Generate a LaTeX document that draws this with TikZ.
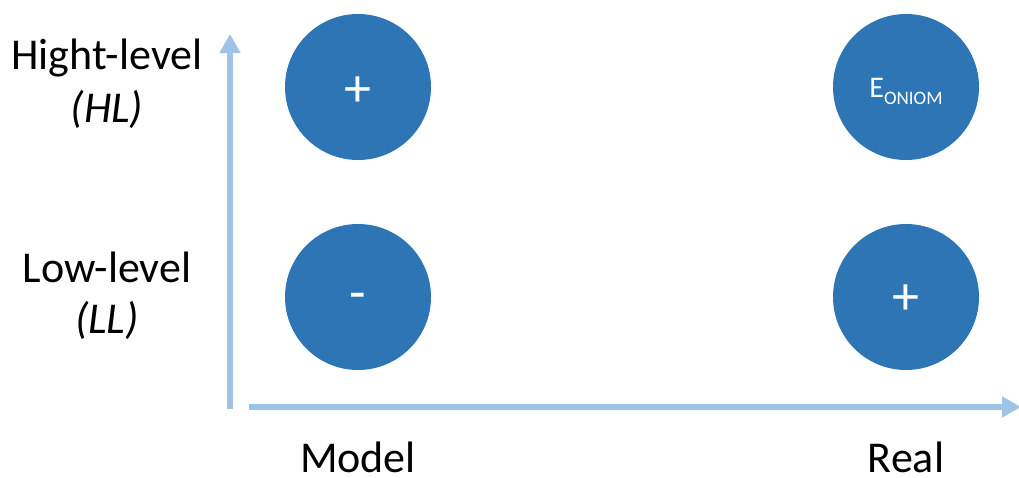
\documentclass[tikz,border=0pt]{standalone}
\usepackage{fontspec}
\setmainfont{Carlito}
\usetikzlibrary{arrows.meta}
\definecolor{ballblue}{HTML}{2E75B6}
\definecolor{axisblue}{HTML}{9DC3E6}
\begin{document}
\begin{tikzpicture}[x=1pt,y=-1pt,
  ball/.style={circle,fill=ballblue,minimum size=146pt,inner sep=0pt},
  sym/.style={text=white,inner sep=0pt,font=\fontsize{54}{60}\selectfont},
  axis/.style={draw=axisblue,line width=6.5pt,-{Triangle[width=20pt,length=19pt]}},
  lbl/.style={font=\fontsize{44}{52}\selectfont,inner sep=0pt,anchor=base,align=center}]
\useasboundingbox (0,0) rectangle (1019,477);
\coordinate (vstart) at (230,409);
\coordinate (vend) at (230,34);
\coordinate (hstart) at (249,407);
\coordinate (hend) at (1021,407);
\draw[axis] (vstart) -- (vend);
\draw[axis] (hstart) -- (hend);
\node[ball] (hlm) at (358,87) {};
\node[ball] (hlr) at (906,87) {};
\node[ball] (llm) at (358,297) {};
\node[ball] (llr) at (906,297) {};
\node[sym] (hlmt) at (358,92) {+};
\node[sym] (llmt) at (358,302) {-};
\node[sym] (llrt) at (906,300) {+};
\node[text=white,inner sep=0pt,anchor=base] (hlrt) at (906,97) {\fontsize{30}{34}\selectfont E\raisebox{-7pt}{\fontsize{19}{22}\selectfont ONIOM}};
\node[lbl] (hl1) at (107,69) {Hight-level};
\node[lbl] (hl2) at (107,122) {\itshape (HL)};
\node[lbl] (ll1) at (107,282) {Low-level};
\node[lbl] (ll2) at (107,333) {\itshape (LL)};
\node[lbl,text depth=0pt] (model) at (358,472) {Model};
\node[lbl,text depth=0pt] (real) at (906,472) {Real};
\end{tikzpicture}
\end{document}
